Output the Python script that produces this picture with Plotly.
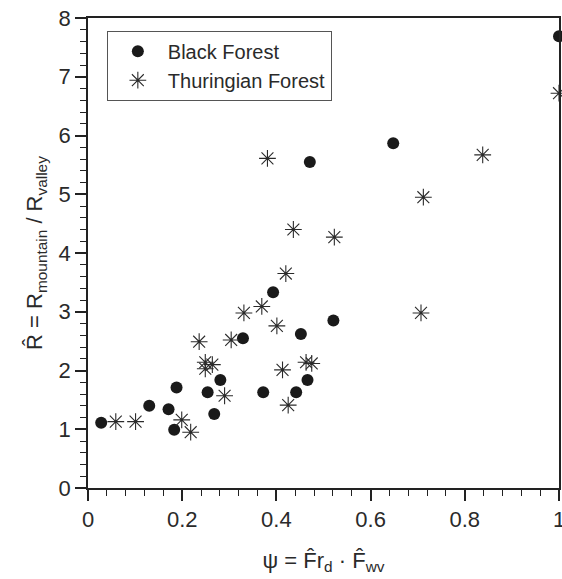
import plotly.graph_objects as go

# Black Forest (filled circles)
bf_x = [0.028, 0.130, 0.171, 0.188, 0.183, 0.254, 0.281, 0.268, 0.329, 0.393,
        0.372, 0.452, 0.442, 0.466, 0.521, 0.471, 0.648, 1.000]
bf_y = [1.11, 1.40, 1.34, 1.71, 0.99, 1.63, 1.84, 1.26, 2.55, 3.33,
        1.63, 2.62, 1.63, 1.84, 2.85, 5.55, 5.87, 7.69]

# Thuringian Forest (asterisks)
tf_x = [0.059, 0.101, 0.199, 0.218, 0.236, 0.249, 0.249, 0.264, 0.290, 0.304,
        0.331, 0.369, 0.401, 0.420, 0.413, 0.425, 0.463, 0.475, 0.707, 0.523,
        0.712, 0.838, 1.000, 0.381, 0.436]
tf_y = [1.13, 1.13, 1.16, 0.95, 2.49, 2.14, 2.03, 2.10, 1.57, 2.52,
        2.98, 3.09, 2.76, 3.65, 2.01, 1.41, 2.14, 2.12, 2.98, 4.27,
        4.95, 5.67, 6.72, 5.61, 4.40]

x_ticks = [0, 0.2, 0.4, 0.6, 0.8, 1]
x_labels = ["0", "0.2", "0.4", "0.6", "0.8", "1"]
y_ticks = [0, 1, 2, 3, 4, 5, 6, 7, 8]

FONT = "Liberation Sans, Arial, sans-serif"
TXT = "#2a2a2a"

fig = go.Figure()
fig.add_trace(go.Scatter(
    x=bf_x, y=bf_y, mode="markers", name="Black Forest",
    marker=dict(symbol="circle", size=12, color="#1a1a1a", line=dict(width=0)),
    cliponaxis=False))
fig.add_trace(go.Scatter(
    x=tf_x, y=tf_y, mode="markers", name="Thuringian Forest",
    marker=dict(symbol="asterisk-open", size=14, color="#2a2a2a",
                line=dict(width=1.1, color="#2a2a2a")),
    cliponaxis=False))

axis_common = dict(
    showline=True, linecolor="#222", linewidth=1.5, mirror=True,
    showgrid=False, zeroline=False, ticks="outside", ticklen=11, tickwidth=1.5,
    tickcolor="#222", tickfont=dict(family=FONT, size=22, color=TXT),
    automargin=False,
)

fig.update_layout(
    width=562, height=579,
    margin=dict(l=88, r=3, t=18, b=91),
    paper_bgcolor="white", plot_bgcolor="white",
    font=dict(family=FONT, color=TXT),
    showlegend=True,
    legend=dict(x=0.04, y=0.973, xanchor="left", yanchor="top",
                bordercolor="#555", borderwidth=1, bgcolor="white",
                font=dict(family=FONT, size=20, color=TXT),
                itemwidth=50, tracegroupgap=0),
    xaxis=dict(range=[0, 1], tickvals=x_ticks, ticktext=x_labels,
               ticklabeloverflow="allow",
               minor=dict(dtick=0.04, tick0=0, ticks="outside", ticklen=6,
                          tickwidth=1.2, tickcolor="#222"),
               title=dict(text="ψ = F\u0302r<sub>d</sub> · F\u0302<sub>wv</sub>",
                          font=dict(family=FONT, size=22, color=TXT), standoff=21),
               **axis_common),
    yaxis=dict(range=[0, 8], tickvals=y_ticks,
               minor=dict(dtick=0.2, tick0=0, ticks="outside", ticklen=6,
                          tickwidth=1.2, tickcolor="#222"),
               title=dict(text="R\u0302 = R<sub>mountain</sub> / R<sub>valley</sub>",
                          font=dict(family=FONT, size=22, color=TXT), standoff=10),
               **axis_common),
)

fig.write_html("out.html")
